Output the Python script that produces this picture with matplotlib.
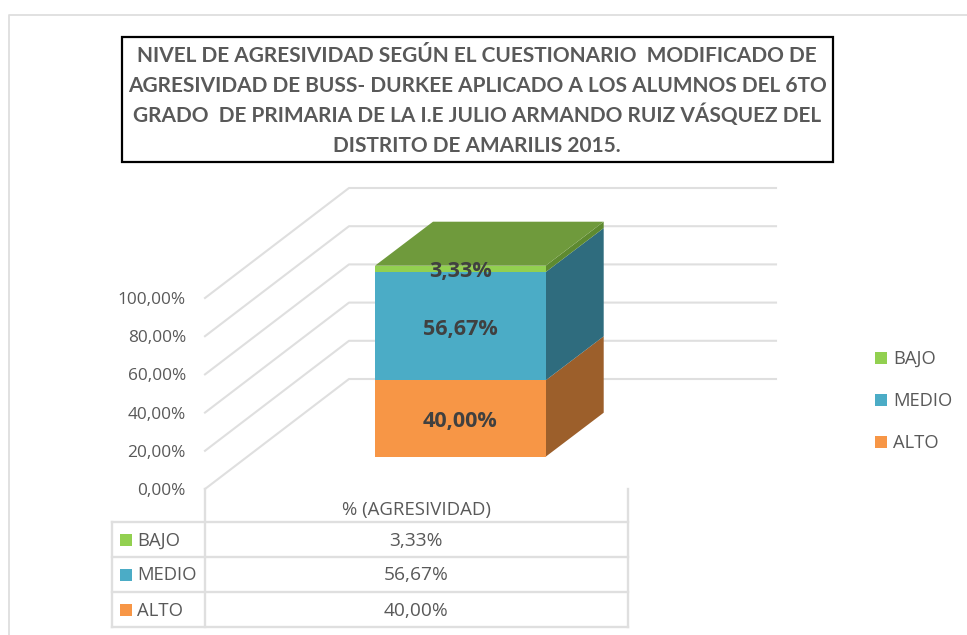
import matplotlib
matplotlib.use('Agg')
import matplotlib.pyplot as plt
from matplotlib.patches import Polygon, Rectangle

plt.rcParams['font.family'] = ['Open Sans', 'DejaVu Sans']

# data
categories = ['ALTO', 'MEDIO', 'BAJO']
values = [40.00, 56.67, 3.33]
value_labels = ['40,00%', '56,67%', '3,33%']
table_header = '% (AGRESIVIDAD)'
ticks = [0, 20, 40, 60, 80, 100]
tick_labels = ['0,00%', '20,00%', '40,00%', '60,00%', '80,00%', '100,00%']
title_lines = ['NIVEL DE AGRESIVIDAD SEGÚN EL CUESTIONARIO  MODIFICADO DE',
               'AGRESIVIDAD DE BUSS- DURKEE APLICADO A LOS ALUMNOS DEL 6TO',
               'GRADO  DE PRIMARIA DE LA I.E JULIO ARMANDO RUIZ VÁSQUEZ DEL',
               'DISTRITO DE AMARILIS 2015.']

front_colors = ['#F79646', '#4BACC6', '#92D050']
side_colors = ['#9C5F2B', '#2F6C7E', '#5E8A30']
top_color = '#6F9A3C'
grid_color = '#DFDFDF'
text_color = '#595959'

px_per_pct = 1.91


def wall_y(v):
    # y pixel of value v on the back wall
    return 379 - v * px_per_pct


def bar_y(v):
    # y pixel of value v on the front of the bar
    return 456.7 - v * px_per_pct


fig = plt.figure(figsize=(9.67, 6.35), dpi=100)
ax = fig.add_axes([0, 0, 1, 1])
ax.set_xlim(0, 967)
ax.set_ylim(635, 0)
ax.axis('off')

# outer chart border
ax.plot([8.5, 8.5, 967], [635, 14.5, 14.5], color='#DEDEDE', lw=1.3)

# walls and gridlines
for t, lab in zip(ticks, tick_labels):
    y = wall_y(t)
    ax.plot([205, 349, 776], [y + 110, y, y], color=grid_color, lw=1.5, zorder=1)
    ax.text(186, y + 112, lab, ha='right', va='center', fontsize=12.4, color=text_color)

# stacked box
x0, x1 = 375, 545.7
dx, dy = 58, 44
bottom = 0
for i, v in enumerate(values):
    top = bottom + v
    yb, yt = bar_y(bottom), bar_y(top)
    ax.add_patch(Polygon([(x1, yb), (x1 + dx, yb - dy), (x1 + dx, yt - dy), (x1, yt)],
                         color=side_colors[i], lw=0, zorder=3))
    ax.add_patch(Polygon([(x0, yb), (x1, yb), (x1, yt), (x0, yt)],
                         color=front_colors[i], lw=0, zorder=4))
    ax.text((x0 + x1) / 2, (yb + yt) / 2 + 3, value_labels[i], ha='center', va='center',
            fontsize=15.6, fontweight='bold', color='#404040', zorder=6)
    bottom = top
ytop = bar_y(bottom)
ax.add_patch(Polygon([(x0, ytop), (x1, ytop), (x1 + dx, ytop - dy), (x0 + dx, ytop - dy)],
                     color=top_color, lw=0, zorder=5))

# data table
rows_y = [522, 557, 592, 627]
ax.plot([205, 205], [489, rows_y[-1]], color=grid_color, lw=1.7, zorder=1)
ax.plot([628, 628], [489, rows_y[-1]], color=grid_color, lw=1.7, zorder=1)
ax.plot([112, 112], [rows_y[0], rows_y[-1]], color=grid_color, lw=1.7, zorder=1)
for y in rows_y:
    ax.plot([112, 628], [y, y], color=grid_color, lw=1.7, zorder=1)
ax.text(416, 510, table_header, ha='center', va='center', fontsize=13.4, color=text_color)

rev = list(range(len(categories)))[::-1]
for row, i in enumerate(rev):
    yc = (rows_y[row] + rows_y[row + 1]) / 2
    ax.add_patch(Rectangle((120, yc - 6), 12, 12, color=front_colors[i], lw=0))
    ax.text(137, yc + 1, categories[i], ha='left', va='center', fontsize=13.3, color=text_color)
    ax.text(416, yc + 1, value_labels[i], ha='center', va='center', fontsize=13.8, color=text_color)

# right legend
legend_y = [358, 400, 442]
for row, i in enumerate(rev):
    ax.add_patch(Rectangle((875, legend_y[row] - 6), 12, 12, color=front_colors[i], lw=0))
    ax.text(893, legend_y[row] + 1, categories[i], ha='left', va='center', fontsize=13.2, color=text_color)

# title box
ax.add_patch(Rectangle((122, 37), 711, 125, facecolor='white', edgecolor='black', lw=1.6, zorder=7))
title_y = [56, 86, 115, 146]
for line, y in zip(title_lines, title_y):
    ax.text(477, y, line, ha='center', va='center', fontsize=15.0, fontweight='bold',
            color=text_color, zorder=8, family=['Lato', 'DejaVu Sans'])

fig.savefig('out.png', dpi=100)
